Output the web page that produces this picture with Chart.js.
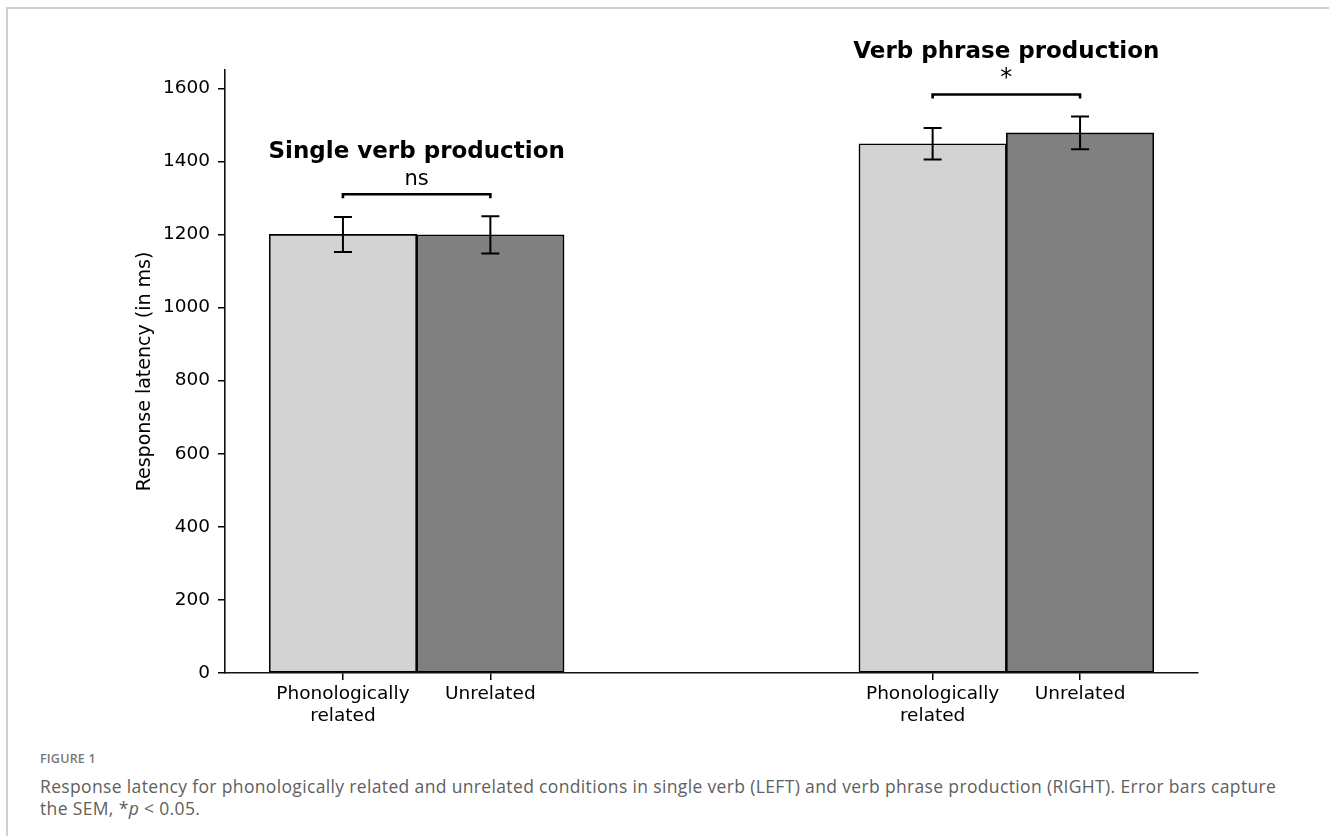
<!DOCTYPE html>
<html>
<head>
<meta charset="utf-8">
<script src="https://cdn.jsdelivr.net/npm/chart.js@4.4.1/dist/chart.umd.min.js"></script>
<style>
  html, body { margin: 0; padding: 0; background: #fff; }
  body { width: 1329px; height: 836px; position: relative; overflow: hidden; }
  #frame { position: absolute; left: 6px; top: 7px; right: 0; bottom: 0;
           border-top: 2px solid #d0d0d0; border-left: 2px solid #d0d0d0; }
  #chart { position: absolute; left: 0; top: 0; }
  #figLabel { position: absolute; left: 40px; top: 750px; font: 600 12.5px "Open Sans", sans-serif;
              color: #777; letter-spacing: 0.2px; }
  #caption { position: absolute; left: 40px; top: 775px; font: 17.5px "Open Sans", sans-serif;
             color: #606060; line-height: 22px; letter-spacing: 0.35px; }
</style>
</head>
<body>
<div id="frame"></div>
<canvas id="chart" width="1329" height="745"></canvas>
<div id="figLabel">FIGURE 1</div>
<div id="caption">Response latency for phonologically related and unrelated conditions in single verb (LEFT) and verb phrase production (RIGHT). Error bars capture<br>the SEM, *<i>p</i> &lt; 0.05.</div>

<script>
// Data
const groups = ['Single verb production', 'Verb phrase production'];
const conditionLabels = [['Phonologically', 'related'], 'Unrelated'];
const relatedMeans = [1200, 1448];
const unrelatedMeans = [1199, 1478];
const relatedSem = [48, 43];
const unrelatedSem = [51, 45];
const sigLabels = ['ns', '*'];
const yTicks = [0, 200, 400, 600, 800, 1000, 1200, 1400, 1600];

const BAR_W = 0.25;
const FONT = 'DejaVu Sans';

Chart.defaults.color = '#000';
Chart.defaults.font.family = FONT;

const relatedPoints = groups.map((g, i) => ({ x: i - BAR_W / 2, y: relatedMeans[i] }));
const unrelatedPoints = groups.map((g, i) => ({ x: i + BAR_W / 2, y: unrelatedMeans[i] }));

// error bars, significance brackets and group titles
const annotations = {
    id: 'annotations',
    afterDatasetsDraw(chart) {
        const ctx = chart.ctx;
        const xs = chart.scales.x, ys = chart.scales.y;
        ctx.save();
        ctx.strokeStyle = '#000';
        ctx.fillStyle = '#000';

        const sems = [relatedSem, unrelatedSem];
        chart.data.datasets.forEach((ds, d) => {
            ds.data.forEach((p, i) => {
                const x = xs.getPixelForValue(p.x);
                const top = ys.getPixelForValue(p.y + sems[d][i]);
                const bot = ys.getPixelForValue(p.y - sems[d][i]);
                ctx.lineWidth = 2;
                ctx.beginPath();
                ctx.moveTo(x, top); ctx.lineTo(x, bot);
                ctx.moveTo(x - 9, top); ctx.lineTo(x + 9, top);
                ctx.moveTo(x - 9, bot); ctx.lineTo(x + 9, bot);
                ctx.stroke();
            });
        });

        groups.forEach((g, i) => {
            const peak = Math.max(relatedMeans[i] + relatedSem[i], unrelatedMeans[i] + unrelatedSem[i]);
            const by = ys.getPixelForValue(peak + 60);
            const x1 = xs.getPixelForValue(relatedPoints[i].x);
            const x2 = xs.getPixelForValue(unrelatedPoints[i].x);
            ctx.lineWidth = 2.6;
            ctx.beginPath();
            ctx.moveTo(x1, by + 4); ctx.lineTo(x1, by); ctx.lineTo(x2, by); ctx.lineTo(x2, by + 4);
            ctx.stroke();

            const cx = xs.getPixelForValue(i);
            ctx.textAlign = 'center';
            ctx.textBaseline = 'alphabetic';
            ctx.font = (sigLabels[i] === '*' ? '24px ' : '21px ') + FONT;
            ctx.fillText(sigLabels[i], cx, by - 9);
            ctx.font = 'bold 23px ' + FONT;
            ctx.fillText(g, cx, by - 36);
        });
        ctx.restore();
    }
};

new Chart(document.getElementById('chart'), {
    type: 'bar',
    data: {
        datasets: [{
            label: 'Phonologically related',
            data: relatedPoints,
            backgroundColor: '#d3d3d3',
            borderColor: '#000',
            borderWidth: 1.6,
            borderSkipped: false,
            grouped: false,
            barPercentage: 1,
            categoryPercentage: 1
        }, {
            label: 'Unrelated',
            data: unrelatedPoints,
            backgroundColor: '#808080',
            borderColor: '#000',
            borderWidth: 1.6,
            borderSkipped: false,
            grouped: false,
            barPercentage: 1,
            categoryPercentage: 1
        }]
    },
    options: {
        responsive: false,
        animation: false,
        layout: { padding: { left: 130, top: 70, right: 131, bottom: 0 } },
        plugins: { legend: { display: false }, tooltip: { enabled: false } },
        scales: {
            x: {
                type: 'linear',
                offset: false,
                min: -0.325,
                max: 1.325,
                afterBuildTicks: s => {
                    s.ticks = [...relatedPoints, ...unrelatedPoints]
                        .map(p => p.x).sort((a, b) => a - b).map(v => ({ value: v }));
                },
                afterFit: s => { s.height = 72; },
                grid: { offset: false, drawOnChartArea: false, color: '#000', tickLength: 7, lineWidth: 1.5 },
                border: { display: true, color: '#111', width: 1.6 },
                ticks: {
                    autoSkip: false,
                    maxRotation: 0,
                    padding: 4,
                    font: { size: 18.5, lineHeight: 1.15 },
                    callback: (v, i) => conditionLabels[i % 2]
                }
            },
            y: {
                min: 0,
                max: 1650,
                afterBuildTicks: s => { s.ticks = yTicks.map(v => ({ value: v })); },
                afterFit: s => { s.width = 95; },
                grid: { drawOnChartArea: false, color: '#000', tickLength: 7, lineWidth: 1.5 },
                border: { display: true, color: '#111', width: 1.6 },
                ticks: { padding: 8, font: { size: 18.5 }, callback: v => String(v) },
                title: { display: true, text: 'Response latency (in ms)', font: { size: 19 } }
            }
        }
    },
    plugins: [annotations]
});
</script>
</body>
</html>
